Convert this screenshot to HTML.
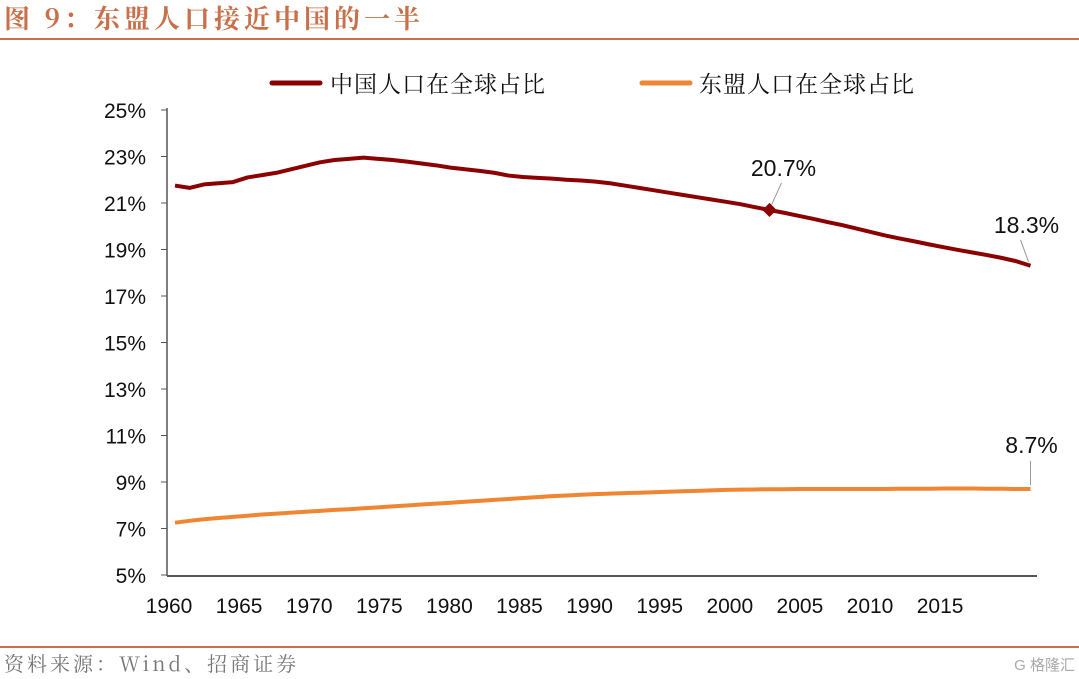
<!DOCTYPE html>
<html><head><meta charset="utf-8">
<style>
body{margin:0;background:#fff;width:1079px;height:679px;overflow:hidden;font-family:"Liberation Sans","Noto Sans CJK SC",sans-serif}
svg{display:block}
</style></head><body>
<svg width="1079" height="679">
<text x="4" y="28" font-size="26" font-weight="bold" letter-spacing="4" fill="#c8704a" font-family="'Noto Serif CJK SC','Liberation Serif',serif">图 9：东盟人口接近中国的一半</text>
<line x1="0" y1="39" x2="1079" y2="39" stroke="#c8704a" stroke-width="2"/>
<line x1="0" y1="647" x2="1079" y2="647" stroke="#c8704a" stroke-width="2"/>
<text x="4" y="671" font-size="20" letter-spacing="3" fill="#777" font-family="'Noto Serif CJK SC',serif">资料来源：Wind、招商证券</text>
<text x="1075" y="670" font-size="15" fill="#aaa" text-anchor="end">G 格隆汇</text>
<g>
<line x1="272" y1="83" x2="320" y2="83" stroke="#8b0000" stroke-width="5" stroke-linecap="round"/>
<text x="330" y="92" font-size="23" letter-spacing="1" font-family="'Noto Serif CJK SC',serif" fill="#111">中国人口在全球占比</text>
<line x1="642" y1="83" x2="690" y2="83" stroke="#f08532" stroke-width="5" stroke-linecap="round"/>
<text x="699" y="92" font-size="23" letter-spacing="1" font-family="'Noto Serif CJK SC',serif" fill="#111">东盟人口在全球占比</text>
</g>
<g id="plot"></g>
</svg>
<script>
const years=[];for(let y=1960;y<=2019;y++)years.push(y);
const china=[21.75,21.65,21.8,21.85,21.9,22.1,22.2,22.3,22.45,22.6,22.75,22.85,22.9,22.95,22.9,22.85,22.78,22.7,22.62,22.52,22.45,22.38,22.3,22.18,22.12,22.08,22.05,22.0,21.97,21.92,21.85,21.75,21.65,21.55,21.45,21.35,21.25,21.15,21.05,20.95,20.82,20.7,20.58,20.45,20.32,20.18,20.05,19.9,19.75,19.6,19.47,19.35,19.22,19.1,18.98,18.87,18.76,18.64,18.5,18.3];
const asean=[7.25,7.33,7.4,7.45,7.5,7.55,7.6,7.64,7.68,7.72,7.76,7.8,7.83,7.87,7.91,7.95,7.99,8.03,8.07,8.11,8.15,8.19,8.23,8.27,8.31,8.35,8.39,8.42,8.45,8.48,8.5,8.52,8.54,8.56,8.58,8.6,8.62,8.64,8.66,8.67,8.68,8.69,8.69,8.7,8.7,8.7,8.7,8.7,8.7,8.7,8.71,8.71,8.71,8.72,8.72,8.72,8.71,8.71,8.7,8.7];
const yTicks=[5,7,9,11,13,15,17,19,21,23,25];
const xLabels=[1960,1965,1970,1975,1980,1985,1990,1995,2000,2005,2010,2015];
const NS="http://www.w3.org/2000/svg";
const g=document.getElementById('plot');
const X=yr=>175+(yr-1960)*14.5;
const Y=v=>575-(v-5)*23.25;
function mk(t,a){const e=document.createElementNS(NS,t);for(const k in a)e.setAttribute(k,a[k]);g.appendChild(e);return e;}
let e=mk('line',{x1:167,y1:108,x2:167,y2:576,stroke:'#555','stroke-width':1.5});


e=mk('line',{x1:167,y1:576,x2:1037,y2:576,stroke:'#555','stroke-width':2});


yTicks.forEach(v=>{
 const t=mk('line',{x1:161,y1:Y(v),x2:167,y2:Y(v),stroke:'#555'});
 
 
 const l=mk('text',{x:146,y:Y(v)+8,'font-size':21,'text-anchor':'end',fill:'#111'});l.textContent=v+'%';
 
 
});
xLabels.forEach((yr,i)=>{
 const l=mk('text',{x:169+i*70.1,y:613,'font-size':21,'text-anchor':'middle',fill:'#111'});l.textContent=yr;
 
 
});
function line(arr,col,name){
 const p=mk('polyline',{points:arr.map((v,i)=>X(years[i])+','+Y(v)).join(' '),fill:'none',stroke:col,'stroke-width':4,'stroke-linejoin':'round'});
 
 
}
line(china,'#8b0000','china-line');
line(asean,'#f08532','asean-line');
const i01=years.indexOf(2001);
const d=mk('rect',{x:X(2001)-5,y:Y(china[i01])-5,width:10,height:10,fill:'#8b0000',transform:`rotate(45 ${X(2001)} ${Y(china[i01])})`});


function lab(txt,x,y,name){const t=mk('text',{x:x,y:y,'font-size':23,'text-anchor':'middle',fill:'#111'});t.textContent=txt;
 
 }
lab(china[i01].toFixed(1)+'%',X(2001)+14,Y(china[i01])-34,'label-china-2001');
lab(china[59].toFixed(1)+'%',X(2019)-4,Y(china[59])-33,'label-china-2019');
lab(asean[59].toFixed(1)+'%',X(2019)+1,Y(asean[59])-36,'label-asean-2019');
mk('line',{x1:X(2001)+2,y1:Y(china[i01])-5,x2:X(2001)+12,y2:Y(china[i01])-27,stroke:'#999'});
mk('line',{x1:X(2019)-2,y1:Y(china[59])-4,x2:X(2019)-10,y2:Y(china[59])-26,stroke:'#999'});
mk('line',{x1:X(2019),y1:Y(asean[59])-4,x2:X(2019),y2:Y(asean[59])-28,stroke:'#999'});
</script>
</body></html>
